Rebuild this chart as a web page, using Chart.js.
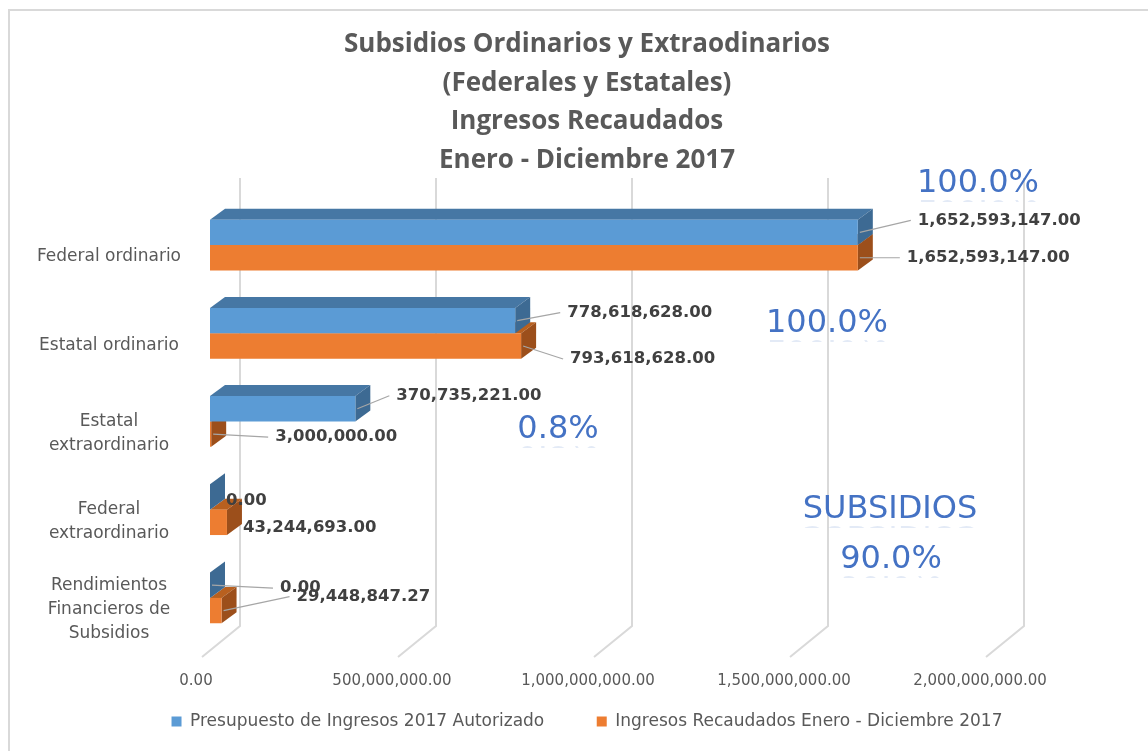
<!DOCTYPE html>
<html>
<head>
<meta charset="utf-8">
<script src="https://cdn.jsdelivr.net/npm/chart.js@4.4.1/dist/chart.umd.min.js"></script>
<style>
html, body { margin: 0; padding: 0; background: #fff; overflow: hidden; }
#frame { position: absolute; left: 8px; top: 9px; width: 1200px; height: 800px; border: 2px solid #d9d9d9; }
#c { position: absolute; left: 0; top: 0; }
</style>
</head>
<body>
<div id="frame"></div>
<canvas id="c" width="1148" height="751"></canvas>
<script>
// chart data
var categories = [['Federal ordinario'], ['Estatal ordinario'], ['Estatal', 'extraordinario'], ['Federal', 'extraordinario'], ['Rendimientos', 'Financieros de', 'Subsidios']];
var presupuesto = [1652593147.00, 778618628.00, 370735221.00, 0.00, 0.00];
var recaudado = [1652593147.00, 793618628.00, 3000000.00, 43244693.00, 29448847.27];
var xTicks = [0, 500000000, 1000000000, 1500000000, 2000000000];
var seriesNames = ['Presupuesto de Ingresos 2017 Autorizado', 'Ingresos Recaudados Enero - Diciembre 2017'];
var titleLines = ['Subsidios Ordinarios y Extraodinarios', '(Federales y Estatales)', 'Ingresos Recaudados', 'Enero - Diciembre 2017'];
var noteTexts = ['100.0%', '100.0%', '0.8%', 'SUBSIDIOS', '90.0%'];

var frontColors = ['#5b9bd5', '#ed7d31'];
var topColors = ['#4677a4', '#b8601f'];
var sideColors = ['#3d6a93', '#9c4f1b'];
var DX = 15, DY = -11;

function fmt(v) {
  return v.toLocaleString('en-US', { minimumFractionDigits: 2, maximumFractionDigits: 2 });
}

// wall/floor grid lines
var grid3d = {
  id: 'grid3d',
  beforeDatasetsDraw: function (chart) {
    var ctx = chart.ctx, xs = chart.scales.x;
    ctx.save();
    ctx.strokeStyle = '#d9d9d9';
    ctx.lineWidth = 2;
    xTicks.forEach(function (v) {
      var px = xs.getPixelForValue(v);
      ctx.beginPath();
      ctx.moveTo(px + 30, 178);
      ctx.lineTo(px + 30, 626);
      ctx.lineTo(px - 8, 657);
      ctx.stroke();
    });
    ctx.restore();
  }
};

// top and side faces of the bars
var bars3d = {
  id: 'bars3d',
  beforeDatasetsDraw: function (chart) {
    var ctx = chart.ctx;
    ctx.save();
    for (var d = chart.data.datasets.length - 1; d >= 0; d--) {
      chart.getDatasetMeta(d).data.forEach(function (bar) {
        var t = bar.y - bar.height / 2, b = bar.y + bar.height / 2;
        ctx.fillStyle = topColors[d];
        ctx.beginPath();
        ctx.moveTo(bar.base, t);
        ctx.lineTo(bar.x, t);
        ctx.lineTo(bar.x + DX, t + DY);
        ctx.lineTo(bar.base + DX, t + DY);
        ctx.closePath();
        ctx.fill();
        ctx.fillStyle = sideColors[d];
        ctx.beginPath();
        ctx.moveTo(bar.x, t);
        ctx.lineTo(bar.x + DX, t + DY);
        ctx.lineTo(bar.x + DX, b + DY);
        ctx.lineTo(bar.x, b);
        ctx.closePath();
        ctx.fill();
      });
    }
    ctx.restore();
  }
};

// data labels: [dx from bar end, dy from bar centre, leader]
var labelPos = [
  [[60, -12, 1], [52, -8, 1], [41, -13, 1], [16, 4, 0], [70, 3, 1]],
  [[49, 0, 1], [49, 13, 1], [64, 3, 1], [16, 5, 0], [75, -14, 1]]
];
var dataLabels = {
  id: 'dataLabels',
  afterDatasetsDraw: function (chart) {
    var ctx = chart.ctx;
    ctx.save();
    ctx.font = 'bold 16.5px "DejaVu Sans"';
    ctx.textBaseline = 'middle';
    ctx.textAlign = 'left';
    chart.data.datasets.forEach(function (ds, d) {
      chart.getDatasetMeta(d).data.forEach(function (bar, i) {
        var p = labelPos[d][i];
        var tx = bar.x + p[0], ty = bar.y + p[1];
        if (p[2]) {
          ctx.strokeStyle = '#a6a6a6';
          ctx.lineWidth = 1.2;
          ctx.beginPath();
          ctx.moveTo(bar.x + 2, bar.y);
          ctx.lineTo(tx - 7, ty);
          ctx.stroke();
        }
        ctx.fillStyle = '#404040';
        ctx.fillText(fmt(ds.data[i]), tx, ty);
      });
    });
    ctx.restore();
  }
};

// big blue notes
var notePos = [[978, 184], [827, 324], [558, 430], [890, 510], [891, 560]];
var notes = {
  id: 'notes',
  afterDraw: function (chart) {
    var ctx = chart.ctx;
    ctx.save();
    ctx.font = '32px "DejaVu Sans"';
    ctx.textAlign = 'center';
    ctx.textBaseline = 'middle';
    noteTexts.forEach(function (t, i) {
      var x = notePos[i][0], y = notePos[i][1];
      ctx.globalAlpha = 1;
      ctx.fillStyle = '#4472c4';
      ctx.fillText(t, x, y);
      // faint reflection
      ctx.save();
      ctx.beginPath();
      ctx.rect(x - 100, y + 12, 200, 6);
      ctx.clip();
      ctx.translate(0, 2 * y + 24);
      ctx.scale(1, -1);
      ctx.globalAlpha = 0.15;
      ctx.fillText(t, x, y);
      ctx.restore();
    });
    ctx.restore();
  }
};

new Chart(document.getElementById('c'), {
  type: 'bar',
  data: {
    labels: categories,
    datasets: [
      { label: seriesNames[0], data: presupuesto, backgroundColor: frontColors[0] },
      { label: seriesNames[1], data: recaudado, backgroundColor: frontColors[1] }
    ]
  },
  options: {
    indexAxis: 'y',
    responsive: false,
    animation: false,
    barPercentage: 1,
    categoryPercentage: 0.575,
    layout: { padding: { left: 26, right: 0, top: 0, bottom: 11 } },
    scales: {
      x: {
        min: 0,
        max: 2000000000,
        grid: { display: false, drawTicks: false },
        border: { display: false },
        afterBuildTicks: function (s) { s.ticks = xTicks.map(function (v) { return { value: v }; }); },
        afterFit: function (s) { s.paddingLeft = 0; s.paddingRight = 154; s.height = 61; },
        ticks: {
          padding: 30,
          labelOffset: -14,
          maxRotation: 0,
          color: '#595959',
          font: { family: 'DejaVu Sans', size: 15 },
          callback: function (v) { return fmt(v); }
        }
      },
      y: {
        grid: { display: false, drawTicks: false },
        border: { display: false },
        afterFit: function (s) { s.width = 184; s.paddingTop = 0; s.paddingBottom = 0; },
        ticks: {
          padding: 29,
          crossAlign: 'center',
          labelOffset: 12,
          color: '#595959',
          font: { family: 'DejaVu Sans', size: 17, lineHeight: 1.41 }
        }
      }
    },
    plugins: {
      title: {
        display: true,
        text: titleLines,
        color: '#595959',
        font: { family: 'Open Sans', size: 26, weight: 'bold', lineHeight: 1.49 },
        padding: { top: 25, bottom: 21 }
      },
      legend: {
        position: 'bottom',
        labels: {
          boxWidth: 10,
          boxHeight: 10,
          padding: 10,
          color: '#595959',
          font: { family: 'DejaVu Sans', size: 17 },
          generateLabels: function (chart) {
            var items = Chart.defaults.plugins.legend.labels.generateLabels(chart);
            items[0].text += '\u2003\u2003\u2002';
            return items;
          }
        }
      },
      tooltip: { enabled: false }
    }
  },
  plugins: [grid3d, bars3d, dataLabels, notes]
});
</script>
</body>
</html>
